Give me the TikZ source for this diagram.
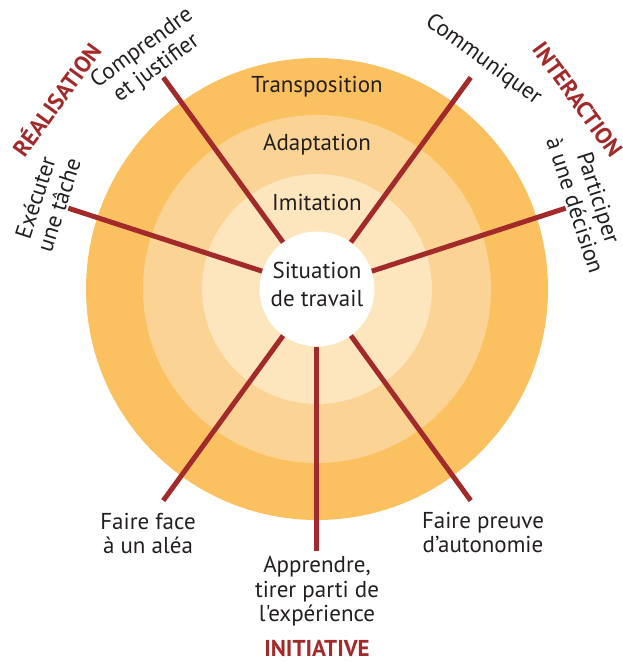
\documentclass[tikz,border=0pt]{standalone}
\usepackage{fontspec}
\setmainfont{PT Sans}[Ligatures=TeXOff]
\usetikzlibrary{calc}
\definecolor{ringA}{HTML}{FBC160}
\definecolor{ringB}{HTML}{FBD394}
\definecolor{ringC}{HTML}{FDE5BD}
\definecolor{spoke}{HTML}{A32A2A}
\definecolor{ink}{HTML}{231F20}
\begin{document}
\begin{tikzpicture}[x=1pt,y=1pt,
  lab/.style={text=ink, font=\fontsize{23}{24.5}\selectfont, align=center, inner sep=0pt},
  cat/.style={text=spoke, font=\bfseries\fontsize{23}{24}\selectfont, inner sep=0pt},
  spk/.style={draw=spoke, line width=5pt},
  hub/.style={circle, fill=white, minimum size=115pt, inner sep=0pt}]
\useasboundingbox (-317,-373) rectangle (306,289);
% rings
\fill[ringA] (0,0) circle (231);
\fill[ringB] (0,0) circle (174);
\fill[ringC] (0,0) circle (115);
% ring labels
\node[lab, anchor=base] (transp) at (0,196.7) {Transposition};
\node[lab, anchor=base] (adapt) at (0,138.3) {Adaptation};
\node[lab, anchor=base] (imit) at (0,78.3) {Imitation};
% hub
\node[hub] (sit) at (0,0) {};
\node[lab, font=\fontsize{23}{27.4}\selectfont] (sittext) at (0,4.5) {Situation\\de travail};
% spoke ends
\coordinate (eComp) at (126:261.5);
\coordinate (eExec) at (162:261.5);
\coordinate (eComm) at (54:261.5);
\coordinate (ePart) at (18:261.5);
\coordinate (eFace) at (234:261.5);
\coordinate (eAppr) at (270:261.5);
\coordinate (ePreu) at (306:261.5);
% spokes
\foreach \e in {eComp,eExec,eComm,ePart,eFace,eAppr,ePreu}
  \draw[spk] (sit) -- (\e);
% outer labels
\node[lab, rotate=36] (lComp) at (126:285) {Comprendre\\et justifier};
\node[lab, rotate=72] (lExec) at (162:284) {Exécuter\\une tâche};
\node[lab, rotate=-36] (lComm) at (54:283) {Communiquer};
\node[lab, rotate=-72] (lPart) at (18:284) {Participer\\à une décision};
\node[lab] (lFace) at (-169,-244.4) {Faire face\\à un aléa};
\node[lab] (lAppr) at (0,-302.3) {Apprendre,\\tirer parti de\\l'expérience};
\node[lab] (lPreu) at (166,-243.5) {Faire preuve\\d’autonomie};
% categories
\node[cat, rotate=54] (cReal) at (144:323) {RÉALISATION};
\node[cat, rotate=-54] (cInter) at (36:322) {INTERACTION};
\node[cat, anchor=base] (cInit) at (0,-367.7) {INITIATIVE};
\end{tikzpicture}
\end{document}
